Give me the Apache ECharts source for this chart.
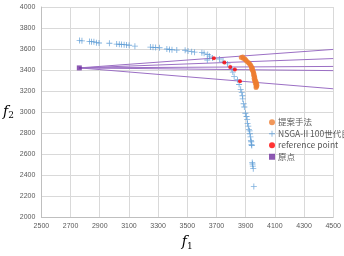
<!DOCTYPE html>
<html><head><meta charset="utf-8">
<script src="https://cdn.jsdelivr.net/npm/echarts@6/dist/echarts.min.js"></script>
<style>html,body{margin:0;padding:0;background:#fff}#c{width:344px;height:256px}</style>
</head><body><div id="c"></div>
<script>
const xTicks = [2500, 4500, 200];
const yTicks = [2000, 4000, 200];
const proposed = [[3870,3520],[3880,3525],[3885,3510],[3895,3505],[3900,3495],[3908,3483],[3918,3472],[3925,3462],[3932,3450],[3937,3438],[3940,3425],[3946,3418],[3943,3408],[3948,3398],[3951,3386],[3954,3374],[3957,3362],[3955,3350],[3960,3340],[3962,3328],[3958,3318],[3965,3308],[3961,3298],[3969,3292],[3972,3282],[3966,3276],[3975,3268],[3970,3258],[3977,3252],[3974,3242],[3971,3233]];
const nsga = [[2762,3680],[2778,3678],[2830,3672],[2843,3670],[2860,3668],[2877,3660],[2895,3657],[2966,3655],[3016,3647],[3034,3645],[3049,3643],[3067,3641],[3083,3639],[3101,3636],[3141,3627],[3247,3618],[3265,3616],[3283,3614],[3310,3612],[3360,3600],[3378,3595],[3395,3593],[3428,3590],[3485,3588],[3505,3580],[3530,3575],[3550,3570],[3600,3565],[3615,3560],[3640,3548],[3652,3532],[3672,3515],[3637,3495],[3720,3505],[3745,3485],[3776,3458],[3805,3413],[3812,3380],[3821,3337],[3844,3307],[3855,3262],[3866,3216],[3873,3185],[3878,3155],[3880,3125],[3886,3079],[3891,3048],[3898,2988],[3906,2957],[3910,2927],[3913,2890],[3918,2866],[3922,2835],[3927,2820],[3929,2793],[3933,2763],[3936,2730],[3938,2717],[3940,2690],[3942,2681],[3945,2520],[3947,2505],[3949,2485],[3952,2460],[3956,2290]];
const refPoints = [[3682,3513],[3754,3471],[3794,3428],[3826,3404],[3861,3294]];
const origin = [[2760,3420]];
const lineEndX = 4500;
const lineEndY = [3596, 3509, 3434, 3394, 3221];
const names = ['提案手法', 'NSGA-II 100世代目', 'reference point', '原点'];

const plus = 'path://M4.3,0L5.7,0L5.7,4.3L10,4.3L10,5.7L5.7,5.7L5.7,10L4.3,10L4.3,5.7L0,5.7L0,4.3L4.3,4.3Z';
const chart = echarts.init(document.getElementById('c'), null, {renderer:'canvas'});
const lineSeries = lineEndY.map(y => ({
  type:'line', data:[origin[0], [lineEndX, y]], symbol:'none', silent:true,
  lineStyle:{color:'#9b6fc4', width:1}, z:1
}));
const fmt = v => String(v);
chart.setOption({
  animation:false,
  grid:{left:39, right:7, top:7, bottom:29},
  xAxis:{type:'value', min:xTicks[0], max:xTicks[1], interval:xTicks[2],
    axisLine:{lineStyle:{color:'#bfbfbf'}}, axisTick:{show:false},
    axisLabel:{fontSize:7, color:'#595959', fontFamily:'Liberation Sans', margin:6, formatter:fmt},
    splitLine:{lineStyle:{color:'#d9d9d9'}},
    name:'{f|f}{s|1}', nameLocation:'middle', nameGap:17,
    nameTextStyle:{rich:{f:{fontFamily:'DejaVu Serif',fontStyle:'italic',fontSize:14,color:'#000'},s:{fontFamily:'DejaVu Serif',fontSize:9,color:'#000',padding:[8,0,0,0]}}}
  },
  yAxis:{type:'value', min:yTicks[0], max:yTicks[1], interval:yTicks[2],
    axisLine:{show:true, lineStyle:{color:'#bfbfbf'}}, axisTick:{show:false},
    axisLabel:{fontSize:7, color:'#595959', fontFamily:'Liberation Sans', margin:6, formatter:fmt},
    splitLine:{lineStyle:{color:'#d9d9d9'}},
    name:'{f|f}{s|2}', nameLocation:'middle', nameGap:23, nameRotate:0,
    nameTextStyle:{rich:{f:{fontFamily:'DejaVu Serif',fontStyle:'italic',fontSize:14,color:'#000'},s:{fontFamily:'DejaVu Serif',fontSize:9,color:'#000',padding:[8,0,0,0]}}}
  },
  legend:{orient:'vertical', left:264, top:113, itemGap:3, itemWidth:6, itemHeight:6,
    textStyle:{fontSize:8.5, color:'#595959', fontFamily:'Noto Sans CJK JP', padding:[0,0,0,-2]},
    data:[{name:names[0], icon:'circle'},{name:names[1], icon:plus},{name:names[2], icon:'circle'},{name:names[3], icon:'rect'}]
  },
  series:[
    ...lineSeries,
    {name:names[1], type:'scatter', data:nsga, symbol:plus, symbolSize:6, itemStyle:{color:'#5b9bd5'}, z:3},
    {name:names[0], type:'scatter', data:proposed, symbol:'circle', symbolSize:5, itemStyle:{color:'#ed7d31'}, z:2},
    {name:names[2], type:'scatter', data:refPoints, symbol:'circle', symbolSize:4, itemStyle:{color:'#ff0000'}, z:4},
    {name:names[3], type:'scatter', data:origin, symbol:'rect', symbolSize:5, itemStyle:{color:'#7030a0'}, z:4}
  ]
});
</script></body></html>
